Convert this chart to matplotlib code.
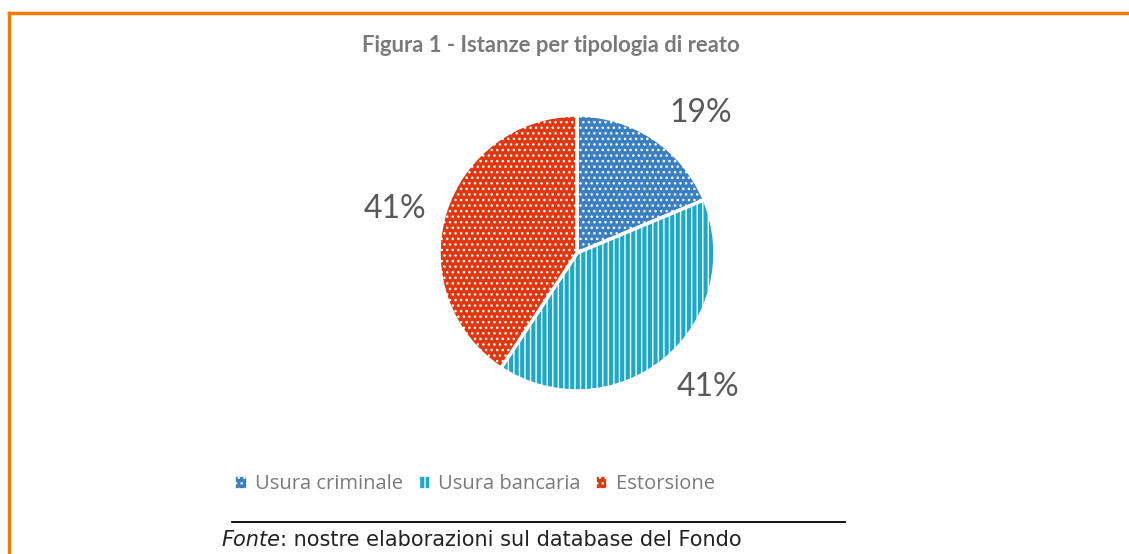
import numpy as np
import matplotlib.pyplot as plt
from matplotlib.patches import Patch
from matplotlib.lines import Line2D

categories = ["Usura criminale", "Usura bancaria", "Estorsione"]
shares = [18.7, 40.6, 40.7]
colors = ["#3A7FC1", "#1BA9CB", "#E2360E"]
hatches = ["...", "|||", "..."]

plt.rcParams["hatch.color"] = "white"
plt.rcParams["hatch.linewidth"] = 1.0

fig = plt.figure(figsize=(11.29, 5.54), dpi=100)
W, H = 1129, 554

# orange frame (top and left side)
fig.add_artist(Line2D([9 / W, 1], [1 - 13 / H, 1 - 13 / H], color="#F07D00", lw=2.5))
fig.add_artist(Line2D([9 / W, 9 / W], [0, 1 - 13 / H], color="#F07D00", lw=2.5))

fig.text(551 / W, 1 - 46 / H, "Figura 1 - Istanze per tipologia di reato",
         ha="center", va="center", fontsize=15.8, color="#7A7A7A",
         family="Lato", weight="bold")

r = 138
cx, cy = 577, 253
ax = fig.add_axes([(cx - r) / W, (H - cy - r) / H, 2 * r / W, 2 * r / H])
wedges, texts, autotexts = ax.pie(
    shares, colors=colors, startangle=90, counterclock=False,
    autopct="%1.0f%%", pctdistance=1.36,
    wedgeprops=dict(edgecolor="white", linewidth=2.5),
    textprops=dict(fontsize=23, color="#595959", family="Lato"))
for w, h in zip(wedges, hatches):
    w.set_hatch(h)

# nudge data labels around the pie like the "best fit" placement
offsets = [-7.5, 4.5, 3.0]
for w, t, off in zip(wedges, autotexts, offsets):
    ang = np.deg2rad((w.theta1 + w.theta2) / 2 + off)
    t.set_position((1.36 * np.cos(ang), 1.35 * np.sin(ang)))

ax.set_xlim(-1, 1)
ax.set_ylim(-1, 1)
ax.set_aspect("equal")
ax.axis("off")

handles = [Patch(facecolor=c, edgecolor="white", hatch=h, lw=0.5)
           for c, h in zip(colors, hatches)]
fig.legend(handles, categories, loc="center", bbox_to_anchor=(475 / W, 1 - 484 / H),
           ncol=3, frameon=False, handlelength=0.5, handleheight=0.5,
           handletextpad=0.45, columnspacing=0.8, prop=dict(family="Open Sans", size=14.5),
           labelcolor="#7A7A7A")

fig.add_artist(Line2D([232 / W, 845 / W], [1 - 522 / H, 1 - 522 / H], color="black", lw=1.3))
t1 = fig.text(221 / W, 1 - 540 / H, "Fonte", ha="left", va="center", fontsize=15,
              style="italic", family="DejaVu Sans", color="#222222")
fig.canvas.draw()
bb = t1.get_window_extent()
fig.text(bb.x1 / W, 1 - 540 / H, ": nostre elaborazioni sul database del Fondo",
         ha="left", va="center", fontsize=15, family="DejaVu Sans", color="#222222")

fig.savefig("out.png", dpi=100, facecolor="white")
